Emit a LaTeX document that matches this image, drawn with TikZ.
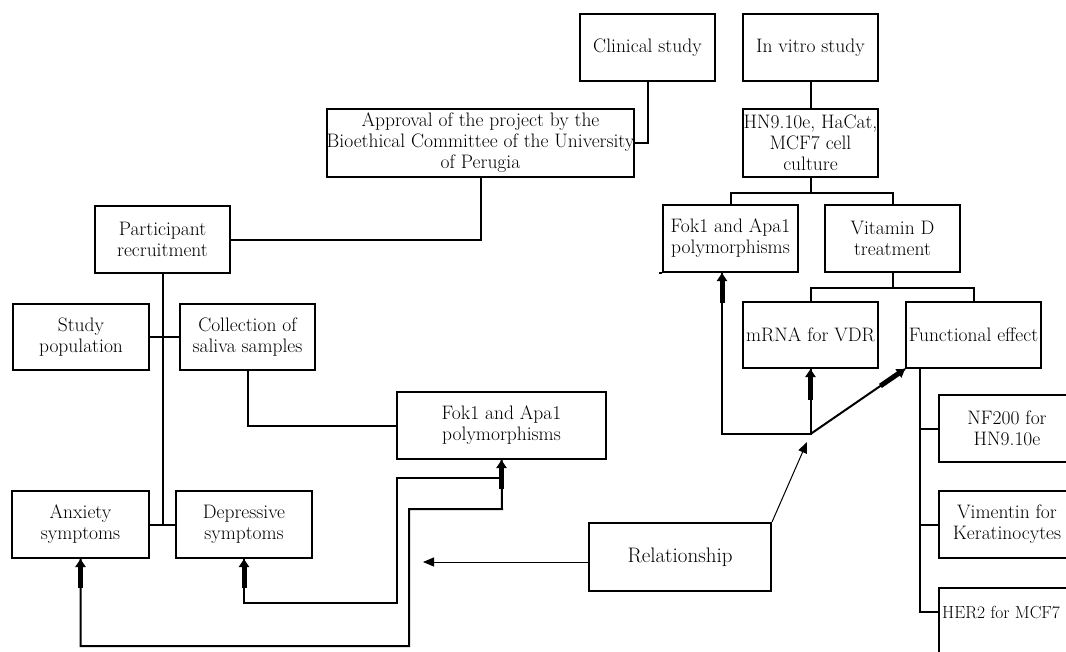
\documentclass[tikz,border=0pt]{standalone}
\usetikzlibrary{arrows.meta,calc}
\begin{document}
\begin{tikzpicture}[x=1pt,y=-1pt,
  box/.style={draw, line width=2pt, align=center, inner sep=0pt, minimum width=135pt, minimum height=67pt, font=\fontsize{19.5}{21}\selectfont},
  ln/.style={line width=2pt},
  thk/.style={line width=5pt, -{Triangle[width=10pt,length=8pt]}},
  thn/.style={line width=1pt, -{Triangle[width=9pt,length=11pt]}}]
\useasboundingbox (0,0) rectangle (1066,651);
\clip (0,0) rectangle (1066,651);
\fill[white] (0,0) rectangle (1066,651);

% nodes
\node[box] (clin) at (647.5,47.5) {Clinical study};
\node[box] (vitro) at (810.5,47.5) {In vitro study};
\node[box, minimum width=307pt, minimum height=68pt] (appr) at (480.5,143) {Approval of the project by the\\Bioethical Committee of the University\\of Perugia};
\node[box, minimum height=68pt] (hn) at (810.5,143) {HN9.10e, HaCat,\\MCF7 cell\\culture};
\node[box] (part) at (162.5,239.5) {Participant\\recruitment};
\node[box] (fokv) at (730.5,238.5) {Fok1 and Apa1\\polymorphisms};
\node[box] (vitd) at (892.5,238.5) {Vitamin D\\treatment};
\node[box, minimum width=136pt, minimum height=66pt] (study) at (81,337) {Study\\population};
\node[box, minimum height=66pt] (coll) at (247.5,337) {Collection of\\saliva samples};
\node[box, minimum height=66pt] (mrna) at (810.5,335) {mRNA for VDR};
\node[box, minimum height=66pt] (func) at (973.5,335) {Functional effect};
\node[box, minimum width=209pt] (fokc) at (501.5,425.5) {Fok1 and Apa1\\polymorphisms};
\node[box, minimum width=136pt] (nf) at (1007,428.5) {NF200 for\\HN9.10e};
\node[box, minimum width=137pt] (anx) at (80.5,524.5) {Anxiety\\symptoms};
\node[box, minimum width=136pt] (dep) at (244,524.5) {Depressive\\symptoms};
\node[box, minimum width=136pt] (vim) at (1007,524.5) {Vimentin for\\Keratinocytes};
\node[box, minimum width=182pt, minimum height=68pt, font=\fontsize{21}{24}\selectfont] (rel) at (680,557) {Relationship};
\node[box, minimum width=136pt, minimum height=80pt, anchor=north] (her) at (1007,587) {};
\node[font=\fontsize{17.5}{21}\selectfont, inner sep=0pt, anchor=west] (hert) at (942,612) {HER2 for MCF7};

% clinical tree
\draw[ln] (clin.south) |- (appr.east);
\draw[ln] (appr.south) |- (part.east);
\draw[ln] (part.south) -- (part.south |- anx.east);
\draw[ln] (study.east) -- (coll.west);
\draw[ln] (anx.east) -- (dep.west);
\draw[ln] (coll.south) |- (fokc.west);

% in vitro tree
\draw[ln] (vitro.south) -- (hn.north);
\draw[ln] (hn.south) -- ++(0,15) coordinate (hnj);
\draw[ln] (fokv.north) |- (hnj) -| (vitd.north);
\draw[ln] (vitd.south) -- ++(0,15) coordinate (vj);
\draw[ln] (mrna.north) |- (vj) -| (func.north);
\coordinate (fb) at ($(func.south west)+(15,0)$);
\draw[ln] (fb) |- (nf.west);
\draw[ln] (fb) |- (vim.west);
\draw[ln] (fb) |- (hert -| her.west);

% feedback connectors (clinical)
\coordinate (fa) at (502,509);
\draw[ln] (fokc.south) -- (fa) -| (409,646) -| (anx.south);
\draw[ln] (dep.south) |- (397,603) |- (502,478);
\draw[thk] ($(anx.south)+(0,29)$) -- (anx.south);
\draw[thk] ($(dep.south)+(0,29)$) -- (dep.south);
\draw[thk] ($(fokc.south)+(0,29)$) -- (fokc.south);

% feedback connectors (in vitro)
\coordinate (fv) at ($(fokv.south west)+(60,0)$);
\coordinate (J) at (810.5,434);
\draw[ln] (fokv.south west) -- ++(-3,0);
\draw[ln] (fv) |- (J) -- (mrna.south);
\draw[ln] (J) -- (func.south west);
\draw[thk] ($(fv)+(0,30)$) -- (fv);
\draw[thk] ($(mrna.south)+(0,31)$) -- (mrna.south);
\draw[thk] ($(J)!0.74!(func.south west)$) -- (func.south west);

% relationship arrows
\coordinate (relL) at (423,562);
\coordinate (relT) at (807,442);
\draw[thn] (rel.west |- relL) -- (relL);
\draw[thn] (rel.north east) -- (relT);
\end{tikzpicture}
\end{document}
